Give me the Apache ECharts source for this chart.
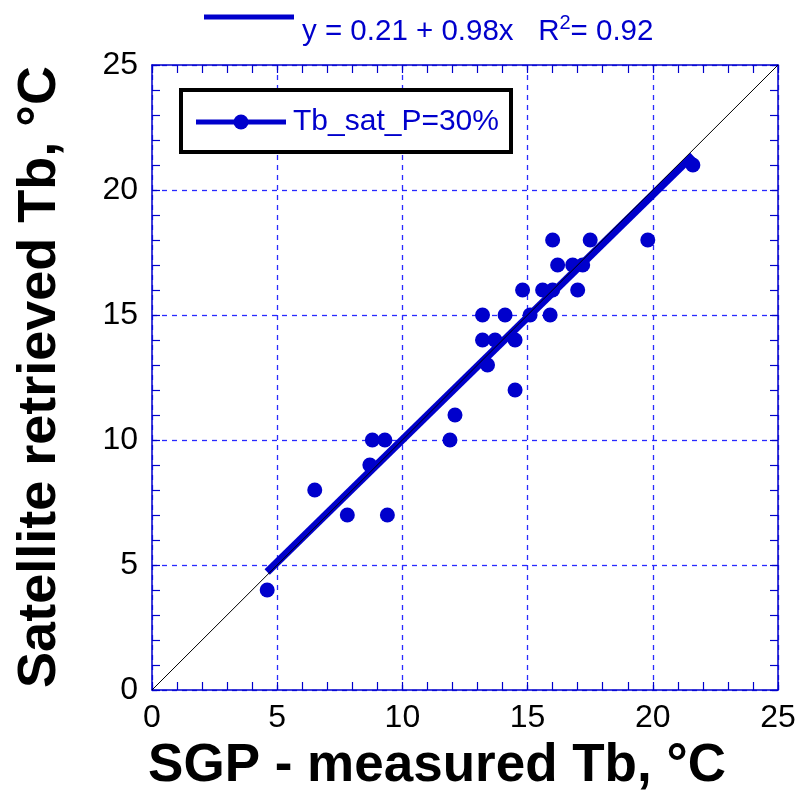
<!DOCTYPE html>
<html>
<head>
<meta charset="utf-8">
<script src="https://cdn.jsdelivr.net/npm/echarts@6/dist/echarts.min.js"></script>
<style>
html,body{margin:0;padding:0;background:#fff;}
#chart{width:800px;height:811px;}
</style>
</head>
<body>
<div id="chart"></div>
<script>
// ---- data ----
var sgpMeasured = [4.6, 6.5, 7.8, 8.7, 8.8, 9.3, 9.4, 11.9, 12.1, 13.2, 14.1, 15.1, 15.9, 13.2, 13.7, 14.5, 13.4, 14.5, 14.8, 15.6, 16.0, 17.0, 16.2, 16.8, 17.2, 16.0, 17.5, 19.8, 21.6];
var satRetrieved = [4, 8, 7, 9, 10, 10, 7, 10, 11, 15, 15, 15, 15, 14, 14, 14, 13, 12, 16, 16, 16, 16, 17, 17, 17, 18, 18, 18, 21];
var fitIntercept = 0.21;
var fitSlope = 0.98;
var rSquared = 0.92;
var axisMin = 0, axisMax = 25, axisStep = 5;
var seriesName = 'Tb_sat_P=30%';
var xTitle = 'SGP - measured Tb, °C';
var yTitle = 'Satellite retrieved Tb, °C';

var BLUE = '#0000cc';
var GRIDBLUE = '#2a2aff';
var FONT = '"Liberation Sans", Arial, sans-serif';

var points = sgpMeasured.map(function (x, i) { return [x, satRetrieved[i]]; });
var xLo = Math.min.apply(null, sgpMeasured), xHi = Math.max.apply(null, sgpMeasured);
var fitLine = [[xLo, fitIntercept + fitSlope * xLo], [xHi, fitIntercept + fitSlope * xHi]];
var oneToOne = [[axisMin, axisMin], [axisMax, axisMax]];

var chart = echarts.init(document.getElementById('chart'), null, {renderer: 'canvas'});

function baseAxis(pos, showLabel, showSplit) {
  return {
    type: 'value', position: pos, min: axisMin, max: axisMax, interval: axisStep,
    axisLine: {show: true, onZero: false, lineStyle: {color: BLUE, width: 1.5}},
    axisTick: {show: true, inside: true, length: 8, lineStyle: {color: BLUE, width: 1.2}},
    minorTick: {show: true, splitNumber: 5, length: 8, lineStyle: {color: BLUE, width: 1.2}},
    minorSplitLine: {show: false},
    splitLine: {show: showSplit, lineStyle: {color: GRIDBLUE, width: 1.3, opacity: 1, type: [5, 5]}},
    axisLabel: {show: showLabel, color: '#000', fontSize: 32, fontFamily: FONT, margin: 14}
  };
}

var xa0 = baseAxis('bottom', true, true);
xa0.axisLabel.margin = 12;
var xa1 = baseAxis('top', false, false);
var ya0 = baseAxis('left', true, true);
var ya1 = baseAxis('right', false, false);

var option = {
  backgroundColor: '#fff',
  animation: false,
  grid: {left: 152, right: 22, top: 65, bottom: 121, containLabel: false},
  xAxis: [xa0, xa1],
  yAxis: [ya0, ya1],
  series: [
    {
      name: seriesName, type: 'scatter', data: points, symbol: 'circle', symbolSize: 15,
      itemStyle: {color: BLUE, opacity: 1}, z: 2
    },
    {
      type: 'line', data: fitLine, symbol: 'none', lineStyle: {color: BLUE, width: 7.5}, z: 3
    },
    {
      type: 'line', data: oneToOne, symbol: 'none', lineStyle: {color: '#000', width: 1}, z: 4
    }
  ],
  graphic: [
    // equation line
    {type: 'line', shape: {x1: 204, y1: 17, x2: 294, y2: 17}, style: {stroke: BLUE, lineWidth: 5}},
    {type: 'text', x: 302, y: 30, style: {
      text: '{a|y = ' + fitIntercept.toFixed(2) + ' + ' + fitSlope.toFixed(2) + 'x   R}{s|2}{a|= ' + rSquared.toFixed(2) + '}',
      verticalAlign: 'middle', align: 'left',
      rich: {
        a: {fontSize: 29.5, fontFamily: FONT, fill: BLUE, lineHeight: 34, verticalAlign: 'bottom'},
        s: {fontSize: 20, fontFamily: FONT, fill: BLUE, lineHeight: 34, verticalAlign: 'top'}
      }
    }},
    // legend box
    {type: 'rect', shape: {x: 181, y: 90, width: 330, height: 62}, style: {fill: '#fff', stroke: '#000', lineWidth: 4}, z: 10},
    {type: 'line', shape: {x1: 196, y1: 122, x2: 286, y2: 122}, style: {stroke: BLUE, lineWidth: 5}, z: 11},
    {type: 'circle', shape: {cx: 241, cy: 122, r: 7.5}, style: {fill: BLUE}, z: 11},
    {type: 'text', x: 293, y: 122, style: {text: seriesName, fontSize: 30, fontFamily: FONT, fill: BLUE, verticalAlign: 'middle', align: 'left'}, z: 11},
    // axis titles
    {type: 'text', x: 437, y: 766, style: {text: xTitle, fontSize: 53, fontWeight: 'bold', fontFamily: FONT, fill: '#000', align: 'center', verticalAlign: 'middle'}},
    {type: 'text', x: 40, y: 377, rotation: Math.PI / 2, style: {text: yTitle, fontSize: 54, fontWeight: 'bold', fontFamily: FONT, fill: '#000', align: 'center', verticalAlign: 'middle'}}
  ]
};
chart.setOption(option);
</script>
</body>
</html>
